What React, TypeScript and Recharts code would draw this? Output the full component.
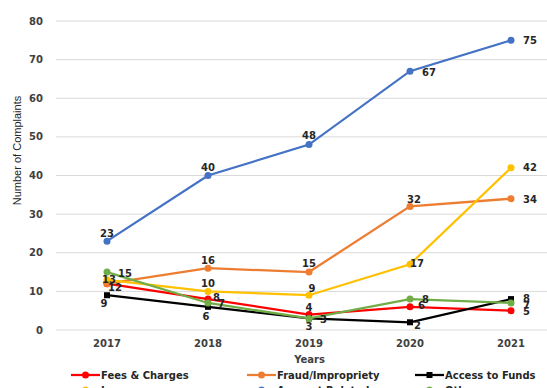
import React from 'react';
import { LineChart, Line, XAxis, YAxis, CartesianGrid, LabelList } from 'recharts';

const years = ['2017', '2018', '2019', '2020', '2021'];
const fees = [12, 8, 4, 6, 5];
const fraud = [12, 16, 15, 32, 34];
const access = [9, 6, 3, 2, 8];
const loan = [13, 10, 9, 17, 42];
const account = [23, 40, 48, 67, 75];
const other = [15, 7, 3, 8, 7];
const yTicks = [0, 10, 20, 30, 40, 50, 60, 70, 80];

const data = years.map((y, i) => ({
  year: y,
  fees: fees[i],
  fraud: fraud[i],
  access: access[i],
  loan: loan[i],
  account: account[i],
  other: other[i],
}));

type Off = [number, number, 'start' | 'middle' | 'end'] | null;

const labelOffsets: Record<string, Off[]> = {
  fees: [[1, 4, 'start'], [5, -2, 'start'], [0, -7, 'middle'], [8, -1, 'start'], [12, 1, 'start']],
  fraud: [null, [0, -8, 'middle'], [0, -9, 'middle'], [4, -7, 'middle'], [12, 1, 'start']],
  access: [[-3, 8, 'middle'], [-2, 10, 'middle'], [0, 8, 'middle'], [4, 3, 'start'], [12, -1, 'start']],
  loan: [[2, 0, 'middle'], [0, -8, 'middle'], [3, -7, 'middle'], [0, -1, 'start'], [12, 0, 'start']],
  account: [[0, -8, 'middle'], [0, -8, 'middle'], [0, -9, 'middle'], [12, 1, 'start'], [12, 0, 'start']],
  other: [[11, 1, 'start'], [10, 1, 'start'], [11, 1, 'start'], [12, 0, 'start'], [12, 3, 'start']],
};

const series = [
  { key: 'fees', name: 'Fees & Charges', color: '#FF0000', square: false },
  { key: 'fraud', name: 'Fraud/Impropriety', color: '#ED7D31', square: false },
  { key: 'access', name: 'Access to Funds', color: '#000000', square: true },
  { key: 'loan', name: 'Loan', color: '#FFC000', square: false },
  { key: 'account', name: 'Account Related', color: '#4472C4', square: false },
  { key: 'other', name: 'Other', color: '#70AD47', square: false },
];

const FONT = '"DejaVu Sans", sans-serif';

const makeLabel = (key: string) => (props: any) => {
  const { x, y, value, index } = props;
  const off = labelOffsets[key][index];
  if (!off) return null;
  return (
    <text
      x={x + off[0]}
      y={y + off[1]}
      textAnchor={off[2]}
      dominantBaseline="central"
      fontFamily={FONT}
      fontWeight="bold"
      fontSize={10}
      fill="#262626"
    >
      {value}
    </text>
  );
};

const makeDot = (color: string, square: boolean) => (props: any) => {
  const { cx, cy, index } = props;
  if (cx == null || cy == null) return <g key={index} />;
  if (square) {
    return <rect key={index} x={cx - 3} y={cy - 3} width={6} height={6} fill={color} />;
  }
  return <circle key={index} cx={cx} cy={cy} r={3.5} fill={color} />;
};

const legendCols = [71, 247, 415];
const legendRows = [375, 390];

export default function App() {
  return (
    <div style={{ position: 'absolute', left: 0, top: 0, width: 547, height: 388, overflow: 'hidden', background: '#fff' }}>
      <LineChart width={547} height={388} data={data} margin={{ top: 21, right: 0, bottom: 0, left: 0 }}>
        <CartesianGrid vertical={false} stroke="#D9D9D9" strokeWidth={1} />
        <XAxis
          dataKey="year"
          axisLine={false}
          tickLine={false}
          height={58}
          padding={{ left: 51, right: 36 }}
          tickMargin={4}
          tick={{ fontFamily: FONT, fontWeight: 'bold', fontSize: 10, fill: '#404040' }}
          label={{ value: 'Years', position: 'insideTop', offset: 26, dx: 8, fontFamily: FONT, fontWeight: 'bold', fontSize: 10, fill: '#404040' }}
        />
        <YAxis
          domain={[0, 80]}
          ticks={yTicks}
          axisLine={false}
          tickLine={false}
          width={56}
          tickMargin={7}
          interval={0}
          tick={{ fontFamily: FONT, fontWeight: 'bold', fontSize: 10, fill: '#404040' }}
          label={{ value: 'Number of Complaints', angle: -90, position: 'center', dx: -11, dy: -25, fontFamily: '"Liberation Sans Narrow", "Arial Narrow", sans-serif', fontSize: 11, fill: '#262626' }}
        />
        {series.map((s) => (
          <Line
            key={s.key}
            dataKey={s.key}
            name={s.name}
            stroke={s.color}
            strokeWidth={2.25}
            dot={makeDot(s.color, s.square)}
            activeDot={false}
            isAnimationActive={false}
          >
            <LabelList dataKey={s.key} content={makeLabel(s.key)} />
          </Line>
        ))}
      </LineChart>
      {series.map((s, i) => {
        const col = legendCols[i % 3];
        const row = legendRows[Math.floor(i / 3)];
        return (
          <div
            key={s.key}
            style={{ position: 'absolute', left: col, top: row - 8, height: 16, display: 'flex', alignItems: 'center', whiteSpace: 'nowrap' }}
          >
            <svg width={29} height={10} style={{ display: 'block' }}>
              <line x1={0} y1={5} x2={29} y2={5} stroke={s.color} strokeWidth={2.25} />
              {s.square ? <rect x={11.5} y={2} width={6} height={6} fill={s.color} /> : <circle cx={14.5} cy={5} r={3.5} fill={s.color} />}
            </svg>
            <span style={{ fontFamily: FONT, fontWeight: 'bold', fontSize: 10, color: '#262626', marginLeft: 1 }}>{s.name}</span>
          </div>
        );
      })}
    </div>
  );
}
